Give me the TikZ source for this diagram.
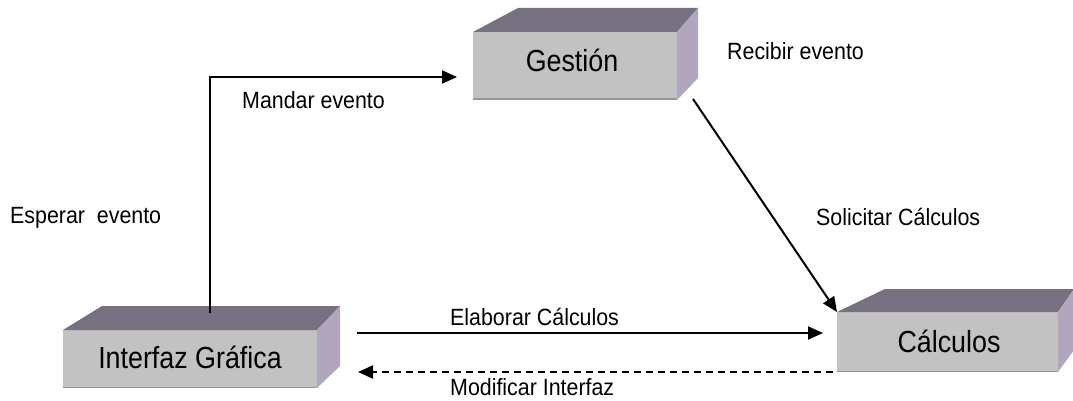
\documentclass[tikz,border=0pt]{standalone}
\usepackage{fontspec}
\setmainfont{Liberation Sans}
\newfontfamily\boxfont[FakeStretch=0.88]{Liberation Sans}
\newfontfamily\lblfont[FakeStretch=0.91]{Liberation Sans}
\usetikzlibrary{arrows.meta}
\definecolor{topc}{RGB}{118,112,128}
\definecolor{sidec}{RGB}{178,166,190}
\definecolor{frontc}{RGB}{194,194,194}
\definecolor{edgec}{RGB}{150,148,160}
\tikzset{
  frontface/.style={fill=frontc, draw=none, inner sep=0pt, outer sep=0pt},
  topface/.style={fill=topc},
  sideface/.style={fill=sidec},
  bottomedge/.style={draw=edgec, line width=1.5pt},
  boxtext/.style={anchor=base, inner sep=0pt, font=\boxfont\fontsize{30.5}{36}\selectfont},
  lbl/.style={anchor=base west, inner sep=0pt, font=\lblfont\fontsize{23.5}{28}\selectfont},
  conn/.style={line width=2pt, -{Triangle[length=15pt,width=13pt]}},
  dashconn/.style={conn, dash pattern=on 7pt off 5pt},
}
\begin{document}
\begin{tikzpicture}[x=1pt,y=-1pt]
\useasboundingbox (0,0) rectangle (1073,401);
\fill[white] (0,0) rectangle (1073,401);

% Gestion box
\node[frontface, minimum width=204pt, minimum height=68pt] (g) at (575,66) {};
\fill[topface] (g.north west) -- ++(45,-24) -- ++(180,0) -- (g.north east) -- cycle;
\fill[sideface] (g.north east) -- ++(21,-24) -- ++(0,70) -- (g.south east) -- cycle;
\draw[bottomedge] ([yshift=0.75pt]g.south west) -- ([yshift=0.75pt]g.south east);
\node[boxtext] (gt) at (572,72) {Gestión};

% Interfaz box
\node[frontface, minimum width=254pt, minimum height=58pt] (i) at (190,359) {};
\fill[topface] (i.north west) -- ++(39,-24) -- ++(238,0) -- (i.north east) -- cycle;
\fill[sideface] (i.north east) -- ++(23,-24) -- ++(0,60) -- (i.south east) -- cycle;
\draw[bottomedge] ([yshift=0.75pt]i.south west) -- ([yshift=0.75pt]i.south east);
\node[boxtext] (it) at (190,368) {Interfaz Gráfica};

% Calculos box
\node[frontface, minimum width=221pt, minimum height=60pt] (c) at (947.5,342) {};
\fill[topface] (c.north west) -- ++(48,-23) -- ++(189,0) -- (c.north east) -- cycle;
\fill[sideface] (c.north east) -- ++(16,-23) -- ++(0,61) -- (c.south east) -- cycle;
\draw[bottomedge] ([yshift=0.75pt]c.south west) -- ([yshift=0.75pt]c.south east);
\node[boxtext] (ct) at (949,352) {Cálculos};

% connectors
\coordinate (istart) at (210,313);
\coordinate (gin) at (457,77);
\draw[conn] (istart) |- (gin);

\coordinate (gout) at (693,99);
\draw[conn] (gout) -- (c.north west);

\coordinate (e1) at (357,333);
\coordinate (e2) at (823,333);
\draw[conn] (e1) -- (e2);

\coordinate (m1) at (833,372);
\coordinate (m2) at (358,372);
\draw[dashconn] (m1) -- (m2);

% labels
\node[lbl] (l1) at (242,109) {Mandar evento};
\node[lbl] (l2) at (450,325) {Elaborar Cálculos};
\node[lbl] (l3) at (450,395) {Modificar Interfaz};
\node[lbl] (l4) at (727,60) {Recibir evento};
\node[lbl] (l5) at (10,223) {Esperar\ \ evento};
\node[lbl] (l6) at (816,225) {Solicitar Cálculos};
\end{tikzpicture}
\end{document}
